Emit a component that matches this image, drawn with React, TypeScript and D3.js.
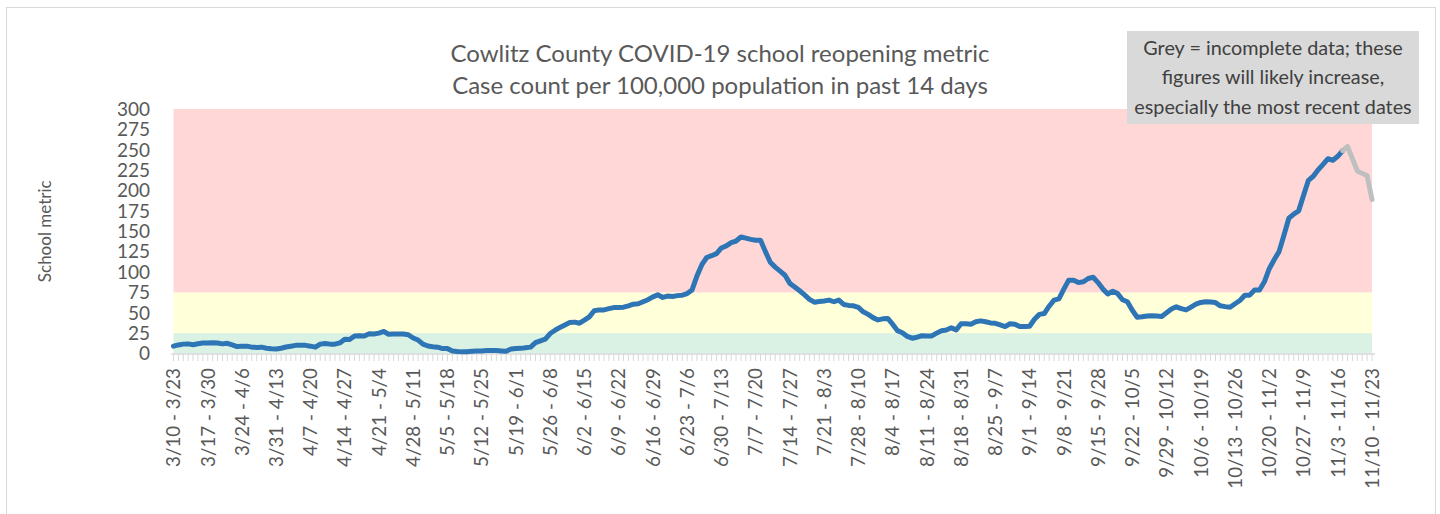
import React from 'react'
import * as d3 from 'd3'

// 14-day window labels, one every 7 days
const windowLabels = [
  '3/10 - 3/23', '3/17 - 3/30', '3/24 - 4/6', '3/31 - 4/13', '4/7 - 4/20', '4/14 - 4/27',
  '4/21 - 5/4', '4/28 - 5/11', '5/5 - 5/18', '5/12 - 5/25', '5/19 - 6/1', '5/26 - 6/8',
  '6/2 - 6/15', '6/9 - 6/22', '6/16 - 6/29', '6/23 - 7/6', '6/30 - 7/13', '7/7 - 7/20',
  '7/14 - 7/27', '7/21 - 8/3', '7/28 - 8/10', '8/4 - 8/17', '8/11 - 8/24', '8/18 - 8/31',
  '8/25 - 9/7', '9/1 - 9/14', '9/8 - 9/21', '9/15 - 9/28', '9/22 - 10/5', '9/29 - 10/12',
  '10/6 - 10/19', '10/13 - 10/26', '10/20 - 11/2', '10/27 - 11/9', '11/3 - 11/16', '11/10 - 11/23',
]

// daily school metric (cases per 100k, past 14 days), complete data
const completeValues = [
  9, 10.5, 11.5, 11.8, 10.8, 12, 12.8, 13, 13.2, 12.8,
  11.8, 12.5, 10.5, 8.5, 8.8, 9, 7.8, 7.5, 7.8, 6.5,
  5.8, 5.5, 6.5, 8, 9, 10, 10.2, 10, 9, 7.8,
  11.5, 12.2, 11.5, 11.5, 13, 17.5, 17.2, 21.5, 21.8, 21.5,
  24.3, 24, 25, 27, 23.5, 24, 24, 24, 23, 19,
  16.5, 11.5, 9.2, 8.4, 7.8, 6, 6, 3.2, 2.5, 2,
  2.2, 2.8, 3, 3.2, 3.6, 3.8, 3.7, 3.2, 2.8, 5.5,
  6.2, 6.3, 7, 7.8, 13.3, 15.5, 17.5, 24.5, 28.5, 32,
  35, 38, 38.5, 37.2, 41, 45, 52.5, 53.5, 53.5, 55,
  56.3, 56.5, 56.8, 58.5, 60.5, 61, 63.5, 66, 69.5, 72,
  68.8, 70.5, 70, 71, 71.6, 73.5, 78, 95, 109, 117.8,
  120, 122.5, 129.5, 132, 136, 138, 143, 141.5, 140, 139,
  139, 125, 112, 106, 101, 96, 86, 81.5, 77, 72,
  66.5, 63, 63.8, 64.5, 65.5, 63.5, 65.5, 60.2, 59, 58.5,
  56.5, 51.2, 48, 44, 41.2, 42.5, 43, 36, 28, 25.5,
  21, 18.8, 20, 21.8, 21.5, 21.6, 25, 28, 28.8, 31.5,
  29, 36.5, 36.5, 36, 39, 40, 39, 37.5, 37, 35,
  33, 36.5, 36, 33, 33, 33.5, 42, 48, 49, 58,
  65.5, 67, 79, 90, 90, 87, 88, 92, 93.5, 87,
  79, 73, 76.5, 73.5, 66, 63.5, 53, 44.5, 45, 46,
  46.3, 46, 45.5, 50, 54.5, 57.3, 55, 53.5, 57, 60.5,
  62.7, 63.5, 63.2, 62.5, 58.5, 57.5, 56.7, 61, 65, 71.5,
  71.6, 78, 78, 88, 104, 115, 125, 145, 166, 171,
  175, 194, 212.5, 217.5, 225.5, 232, 239, 237, 242, 249,
]

// most recent days, still incomplete (starts at the last complete day)
const incompleteValues = [249, 254, 239, 224, 221, 218, 189]

const yTicks = [0, 25, 50, 75, 100, 125, 150, 175, 200, 225, 250, 275, 300]

const bands = [
  { from: 0, to: 25, color: '#D9F2E3' },
  { from: 25, to: 75, color: '#FFFFD9' },
  { from: 75, to: 300, color: '#FFD7D7' },
]

const noteLines = [
  'Grey = incomplete data; these',
  'figures will likely increase,',
  'especially the most recent dates',
]

const WIDTH = 1440
const HEIGHT = 514
const FONT = 'Lato, "Open Sans", sans-serif'
const TEXT = '#595959'

export default function App() {
  const dayCount = completeValues.length + incompleteValues.length - 1
  const firstIncomplete = completeValues.length - 1

  const x = d3.scaleLinear().domain([0, dayCount - 1]).range([173.5, 1372])
  const y = d3.scaleLinear().domain([0, 300]).range([353.5, 109])

  const line = d3.line<number>()
    .x((_, i) => x(i))
    .y(d => y(d))

  const lineIncomplete = d3.line<number>()
    .x((_, i) => x(firstIncomplete + i))
    .y(d => y(d))

  const days = d3.range(dayCount)

  return (
    <svg
      width={WIDTH}
      height={HEIGHT}
      style={{ position: 'absolute', left: 0, top: 0, background: '#fff' }}
      fontFamily={FONT}
    >
      {/* chart frame */}
      <rect x={6.5} y={7.5} width={1429} height={520} fill="#fff" stroke="#D9D9D9" strokeWidth={1} />

      {/* title */}
      <text x={720} y={62} textAnchor="middle" fontSize={24} fill={TEXT}>
        Cowlitz County COVID-19 school reopening metric
      </text>
      <text x={720} y={93.5} textAnchor="middle" fontSize={24} fill={TEXT}>
        Case count per 100,000 population in past 14 days
      </text>

      {/* threshold bands */}
      {bands.map(b => (
        <rect
          key={b.from}
          x={x(0)}
          width={x(dayCount - 1) - x(0)}
          y={y(b.to)}
          height={y(b.from) - y(b.to)}
          fill={b.color}
        />
      ))}

      {/* y axis labels */}
      {yTicks.map(t => (
        <text key={t} x={150} y={y(t)} dy="0.36em" textAnchor="end" fontSize={19} fill={TEXT}>
          {t}
        </text>
      ))}
      <text
        transform={`translate(45, ${(y(0) + y(300)) / 2}) rotate(-90)`}
        textAnchor="middle"
        dy="0.35em"
        fontSize={17}
        fill={TEXT}
      >
        School metric
      </text>

      {/* x axis */}
      <line x1={x(0) - 2} x2={x(dayCount - 1) + 3} y1={354} y2={354} stroke="#D9D9D9" strokeWidth={1.5} />
      {days.map(i => (
        <line key={i} x1={x(i)} x2={x(i)} y1={354} y2={361} stroke="#D9D9D9" strokeWidth={1} />
      ))}
      {windowLabels.map((lbl, k) => (
        <text
          key={lbl}
          transform={`translate(${x(k * 7)}, 368) rotate(-90)`}
          textAnchor="end"
          dy="0.36em"
          fontSize={18.8}
          fill={TEXT}
        >
          {lbl}
        </text>
      ))}

      {/* series */}
      <path d={line(completeValues) || ''} fill="none" stroke="#2E75B6" strokeWidth={5} strokeLinejoin="round" strokeLinecap="round" />
      <path d={lineIncomplete(incompleteValues) || ''} fill="none" stroke="#BFBFBF" strokeWidth={5} strokeLinejoin="round" strokeLinecap="round" />

      {/* note box */}
      <rect x={1127} y={31} width={292} height={93} fill="#D9D9D9" />
      {noteLines.map((t, i) => (
        <text key={t} x={1273} y={55 + i * 29.3} textAnchor="middle" fontSize={19.8} fill="#404040">
          {t}
        </text>
      ))}
    </svg>
  )
}
